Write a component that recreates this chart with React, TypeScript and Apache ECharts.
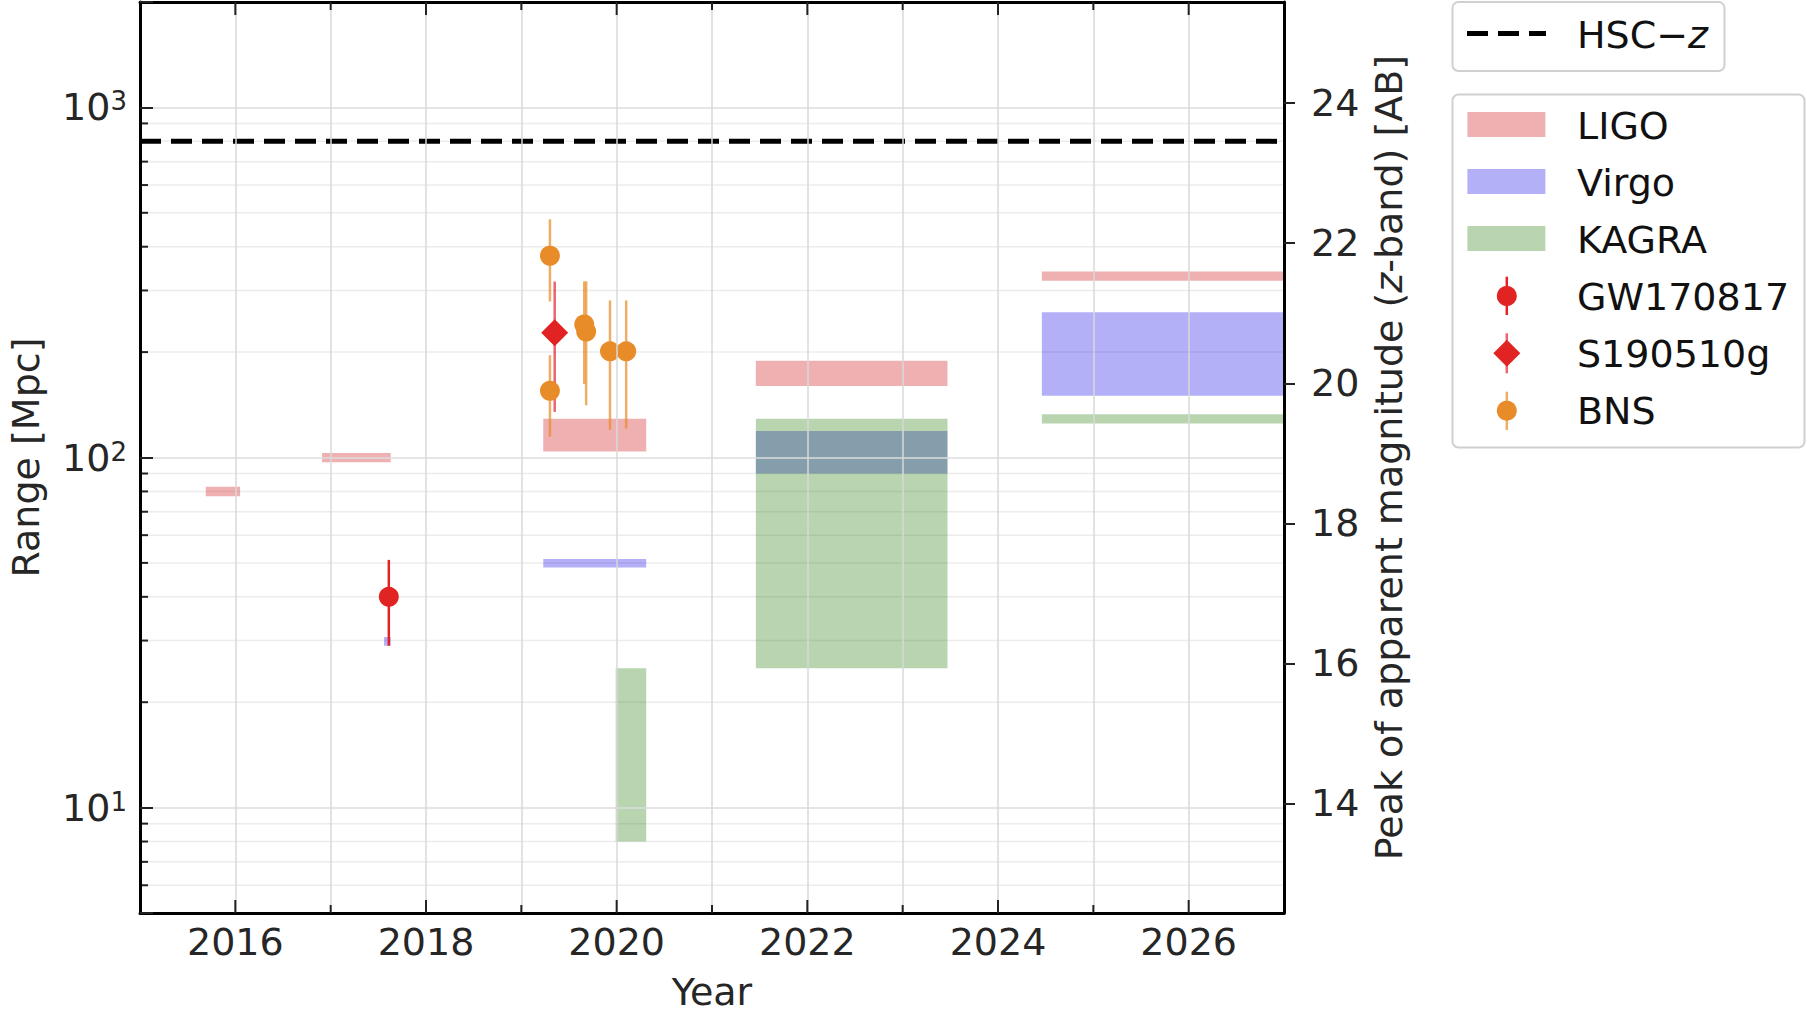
import React, { useEffect, useRef } from 'react';
import * as echarts from 'echarts';

// ---- axis ranges & ticks ----
const yearRange = [2015, 2027];
const rangeLimits = [5, 2000]; // Mpc
const majorYearTicks = [2016, 2018, 2020, 2022, 2024, 2026];
const allYearTicks = [2016, 2017, 2018, 2019, 2020, 2021, 2022, 2023, 2024, 2025, 2026];
const minorRangeTicks = [6, 7, 8, 9, 20, 30, 40, 50, 60, 70, 80, 90, 200, 300, 400, 500, 600, 700, 800, 900];
const magnitudeTicks = [14, 16, 18, 20, 22, 24];
const magnitudeOffset = 8.94; // m = offset + 5 log10(d / Mpc)

// ---- observing runs: [start year, end year, low range, high range] ----
const ligoRuns = [
  [2015.69, 2016.05, 77.5, 82.5],
  [2016.91, 2017.63, 97, 103],
  [2019.23, 2020.31, 104, 129],
  [2021.46, 2023.47, 160, 189],
  [2024.46, 2027.0, 320, 340],
];
const virgoRuns = [
  [2017.56, 2017.63, 29, 30.7],
  [2019.23, 2020.31, 48.5, 51.3],
  [2021.46, 2023.47, 90, 119],
  [2024.46, 2027.0, 150, 260],
];
const kagraRuns = [
  [2019.99, 2020.31, 8, 25],
  [2021.46, 2023.47, 25, 129],
  [2024.46, 2027.0, 125, 133],
];

// ---- events: [year, distance, low, high] ----
const gw170817 = [[2017.61, 40, 29, 51]];
const s190510g = [[2019.35, 227, 135, 318]];
const bnsEvents = [
  [2019.3, 377, 279, 479],
  [2019.3, 155, 114.6, 196],
  [2019.66, 240, 162, 318.5],
  [2019.68, 229, 141, 318.5],
  [2019.93, 201, 120, 281],
  [2020.1, 201, 121, 281],
];
const hscLimit = 800; // Mpc

const FONT = 'DejaVu Sans';
const FS = 38;
const TEXT = '#262626';
const LIGO_FILL = 'rgba(210,36,41,0.36)';
const VIRGO_FILL = 'rgba(10,0,232,0.31)';
const KAGRA_FILL = 'rgba(33,124,8,0.32)';
const ORANGE = '#e88c2a';
const RED = '#e22323';

function rangeBars(name: string, data: number[][], fill: string) {
  return {
    type: 'custom',
    name,
    data,
    encode: { x: [0, 1], y: [2, 3] },
    z: 2,
    renderItem: (params: any, api: any) => {
      const p0 = api.coord([api.value(0), api.value(3)]);
      const p1 = api.coord([api.value(1), api.value(2)]);
      const cs = params.coordSys;
      const rect = echarts.graphic.clipRectByRect(
        { x: p0[0], y: p0[1], width: p1[0] - p0[0], height: p1[1] - p0[1] },
        { x: cs.x, y: cs.y, width: cs.width, height: cs.height }
      );
      if (!rect) return null;
      return { type: 'rect', shape: rect, style: { fill } };
    },
  };
}

function errorBars(name: string, data: number[][], stroke: string, width: number) {
  return {
    type: 'custom',
    name,
    data,
    encode: { x: 0, y: [1, 2, 3] },
    z: 4,
    renderItem: (params: any, api: any) => {
      const lo = api.coord([api.value(0), api.value(2)]);
      const hi = api.coord([api.value(0), api.value(3)]);
      return {
        type: 'line',
        shape: { x1: lo[0], y1: lo[1], x2: hi[0], y2: hi[1] },
        style: { stroke, lineWidth: width },
      };
    },
  };
}

function markers(name: string, data: number[][], symbol: string, size: any, color: string) {
  return {
    type: 'scatter',
    name,
    data: data.map((d) => [d[0], d[1]]),
    symbol,
    symbolSize: size,
    itemStyle: { color, opacity: 1 },
    z: 5,
  };
}

function legendGraphics() {
  const els: any[] = [];
  const textStyle = (text: string, y: number) => ({
    type: 'text',
    z: 101,
    style: {
      text,
      x: 1577,
      y,
      verticalAlign: 'middle',
      fill: '#111',
      font: `${FS}px "${FONT}"`,
      rich: {
        n: { fontSize: FS, fontFamily: FONT, fill: '#111' },
        i: { fontSize: FS, fontFamily: FONT, fontStyle: 'italic', fill: '#111' },
      },
    },
  });
  // box 1
  els.push({
    type: 'rect', z: 100,
    shape: { x: 1452.5, y: 2, width: 272, height: 69, r: 6 },
    style: { fill: 'rgba(255,255,255,0.85)', stroke: '#d0d0d0', lineWidth: 2 },
  });
  els.push({
    type: 'line', z: 101,
    shape: { x1: 1467, y1: 33.5, x2: 1546, y2: 33.5 },
    style: { stroke: '#000', lineWidth: 5, lineDash: [21, 10] },
  });
  els.push(textStyle('{n|HSC\u2212}{i|z}', 35));
  // box 2
  els.push({
    type: 'rect', z: 100,
    shape: { x: 1452.5, y: 94.5, width: 352, height: 353, r: 6 },
    style: { fill: 'rgba(255,255,255,0.85)', stroke: '#d0d0d0', lineWidth: 2 },
  });
  const patches = [
    ['LIGO', LIGO_FILL, 124.5],
    ['Virgo', VIRGO_FILL, 181.5],
    ['KAGRA', KAGRA_FILL, 238.5],
  ];
  patches.forEach(([label, fill, cy]: any) => {
    els.push({
      type: 'rect', z: 101,
      shape: { x: 1467.4, y: cy - 12.5, width: 78, height: 25 },
      style: { fill },
    });
    els.push(textStyle(label, cy + 1));
  });
  const mx = 1506.8;
  // GW170817
  els.push({ type: 'line', z: 101, shape: { x1: mx, y1: 276.7, x2: mx, y2: 315 }, style: { stroke: RED, lineWidth: 2.5 } });
  els.push({ type: 'circle', z: 102, shape: { cx: mx, cy: 296, r: 10 }, style: { fill: RED } });
  els.push(textStyle('GW170817', 296.5));
  // S190510g
  els.push({ type: 'line', z: 101, shape: { x1: mx, y1: 333.3, x2: mx, y2: 373.3 }, style: { stroke: 'rgba(226,35,45,0.7)', lineWidth: 2.5 } });
  els.push({
    type: 'polygon', z: 102,
    shape: { points: [[mx, 339.8], [mx + 13.5, 353.3], [mx, 366.8], [mx - 13.5, 353.3]] },
    style: { fill: RED },
  });
  els.push(textStyle('S190510g', 354));
  // BNS
  els.push({ type: 'line', z: 101, shape: { x1: mx, y1: 391.7, x2: mx, y2: 430 }, style: { stroke: 'rgba(232,140,40,0.7)', lineWidth: 2.5 } });
  els.push({ type: 'circle', z: 102, shape: { cx: mx, cy: 410.7, r: 10 }, style: { fill: ORANGE } });
  els.push(textStyle('BNS', 411));
  return els;
}

function isPow10(v: number) {
  const l = Math.log10(v);
  return Math.abs(l - Math.round(l)) < 1e-6;
}

export default function App() {
  const ref = useRef<HTMLDivElement>(null);

  useEffect(() => {
    if (!ref.current) return;
    const chart = echarts.init(ref.current, null, { renderer: 'svg' });
    const magMin = magnitudeOffset + 5 * Math.log10(rangeLimits[0]);
    const magMax = magnitudeOffset + 5 * Math.log10(rangeLimits[1]);
    const labelStyle = { fontSize: FS, fontFamily: FONT, color: TEXT };

    const option: any = {
      animation: false,
      backgroundColor: '#ffffff',
      grid: { left: 140, top: 2, width: 1144, height: 911, containLabel: false, outerBoundsMode: 'none' },
      xAxis: [
        {
          type: 'value',
          min: yearRange[0],
          max: yearRange[1],
          interval: 1,
          position: 'bottom',
          z: 10,
          name: 'Year',
          nameLocation: 'middle',
          nameGap: 60,
          nameTextStyle: { ...labelStyle },
          axisLine: { show: true, onZero: false, lineStyle: { color: '#000', width: 3 } },
          axisTick: { show: false },
          axisLabel: {
            ...labelStyle,
            margin: 10,
            formatter: (v: number) => (majorYearTicks.indexOf(Math.round(v)) >= 0 ? String(Math.round(v)) : ''),
          },
          splitLine: { show: true, lineStyle: { color: '#d9d9d9', width: 1.5 } },
        },
        {
          type: 'value',
          min: yearRange[0],
          max: yearRange[1],
          interval: 1,
          position: 'top',
          z: 10,
          axisLine: { show: true, onZero: false, lineStyle: { color: '#000', width: 3 } },
          axisTick: { show: false },
          axisLabel: { show: false },
          splitLine: { show: false },
        },
      ],
      yAxis: [
        {
          type: 'log',
          logBase: 10,
          min: rangeLimits[0],
          max: rangeLimits[1],
          position: 'left',
          z: 10,
          name: 'Range [Mpc]',
          nameLocation: 'middle',
          nameRotate: 90,
          nameGap: 95,
          nameTextStyle: { ...labelStyle },
          axisLine: { show: true, onZero: false, lineStyle: { color: '#000', width: 3 } },
          axisTick: { show: true, inside: true, length: 13, lineStyle: { color: '#222', width: 2 } },
          axisLabel: {
            margin: 13,
            formatter: (v: number) => (isPow10(v) ? `{b|10}{s|${Math.round(Math.log10(v))}}` : ''),
            rich: {
              b: { fontSize: FS, fontFamily: FONT, color: TEXT },
              s: { fontSize: 26, fontFamily: FONT, color: TEXT, verticalAlign: 'top' },
            },
          },
          splitLine: { show: true, lineStyle: { color: '#dcdcdc', width: 1.5 } },
        },
        {
          type: 'value',
          min: magMin,
          max: magMax,
          position: 'right',
          z: 10,
          name: 'Peak of apparent magnitude ({i|z}-band) [AB]',
          nameLocation: 'middle',
          nameRotate: 90,
          nameGap: 84,
          nameTextStyle: {
            ...labelStyle,
            rich: { i: { fontSize: FS, fontFamily: FONT, color: TEXT, fontStyle: 'italic' } },
          },
          axisLine: { show: true, onZero: false, lineStyle: { color: '#000', width: 3 } },
          axisTick: { show: true, inside: false, length: 11, customValues: magnitudeTicks, lineStyle: { color: '#222', width: 2 } },
          axisLabel: { ...labelStyle, margin: 27, customValues: magnitudeTicks },
          splitLine: { show: false },
        },
      ],
      series: [
        {
          type: 'custom',
          name: 'minor grid',
          silent: true,
          z: 1,
          data: minorRangeTicks.map((v) => [yearRange[0], v]),
          encode: { x: 0, y: 1 },
          renderItem: (params: any, api: any) => {
            const v = api.value(1);
            const a = api.coord([yearRange[0], v]);
            const b = api.coord([yearRange[1], v]);
            return {
              type: 'group',
              children: [
                { type: 'line', shape: { x1: a[0], y1: a[1], x2: b[0], y2: b[1] }, style: { stroke: '#ececec', lineWidth: 1.5 } },
                { type: 'line', shape: { x1: a[0], y1: a[1], x2: a[0] + 8, y2: a[1] }, style: { stroke: '#222', lineWidth: 2 } },
              ],
            };
          },
        },
        rangeBars('LIGO', ligoRuns, LIGO_FILL),
        rangeBars('Virgo', virgoRuns, VIRGO_FILL),
        rangeBars('KAGRA', kagraRuns, KAGRA_FILL),
        {
          type: 'line',
          name: 'HSC\u2212z',
          data: [[yearRange[0], hscLimit], [yearRange[1], hscLimit]],
          symbol: 'none',
          z: 3,
          lineStyle: { color: '#000', width: 5, type: [21, 10] },
        },
        errorBars('GW170817 error', gw170817, RED, 2.5),
        markers('GW170817', gw170817, 'circle', 20, RED),
        errorBars('S190510g error', s190510g, 'rgba(226,35,45,0.7)', 2.5),
        markers('S190510g', s190510g, 'diamond', [27, 27], RED),
        errorBars('BNS error', bnsEvents, 'rgba(232,140,40,0.7)', 2.5),
        markers('BNS', bnsEvents, 'circle', 20, ORANGE),
        {
          type: 'custom',
          name: 'year ticks',
          silent: true,
          z: 11,
          data: allYearTicks.map((y) => [y, rangeLimits[0]]),
          encode: { x: 0, y: 1 },
          renderItem: (params: any, api: any) => {
            const yr = Math.round(api.value(0));
            const len = majorYearTicks.indexOf(yr) >= 0 ? 13 : 8;
            const b = api.coord([yr, rangeLimits[0]]);
            const t = api.coord([yr, rangeLimits[1]]);
            return {
              type: 'group',
              children: [
                { type: 'line', shape: { x1: b[0], y1: b[1], x2: b[0], y2: b[1] - len }, style: { stroke: '#222', lineWidth: 2 } },
                { type: 'line', shape: { x1: t[0], y1: t[1], x2: t[0], y2: t[1] + len }, style: { stroke: '#222', lineWidth: 2 } },
              ],
            };
          },
        },
      ],
      graphic: legendGraphics(),
    };

    chart.setOption(option);
    return () => chart.dispose();
  }, []);

  return (
    <div
      ref={ref}
      style={{ position: 'absolute', left: 0, top: 0, width: 1807, height: 1015, background: '#fff' }}
    />
  );
}
